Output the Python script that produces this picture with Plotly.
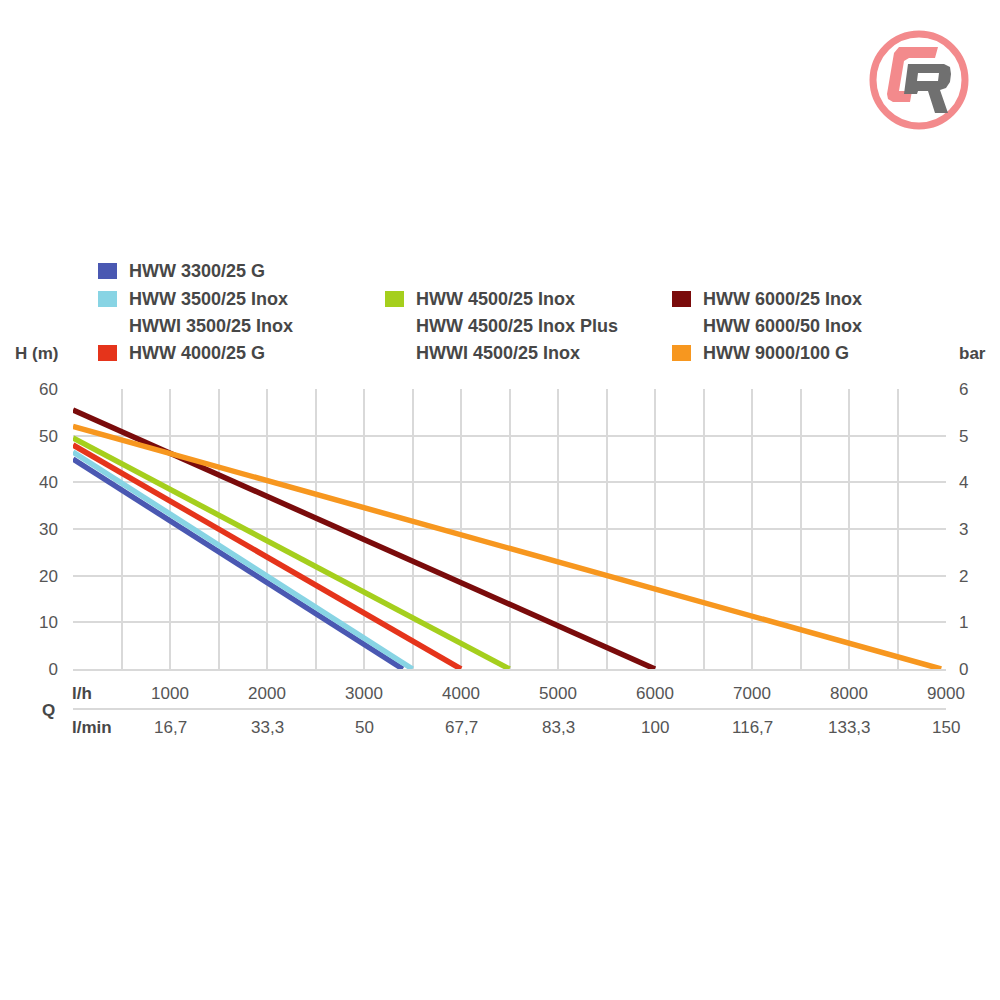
import plotly.graph_objects as go

# ---------------- data ----------------
series_labels = [
    ["HWW 3300/25 G"],
    ["HWW 3500/25 Inox", "HWWI 3500/25 Inox"],
    ["HWW 4000/25 G"],
    ["HWW 4500/25 Inox", "HWW 4500/25 Inox Plus", "HWWI 4500/25 Inox"],
    ["HWW 6000/25 Inox", "HWW 6000/50 Inox"],
    ["HWW 9000/100 G"],
]
colors = ["#4a58b2", "#88d4e4", "#e5341b", "#a5cf1d", "#7a0b0b", "#f7971f"]
q_max_lh = [3400, 3500, 4000, 4500, 6000, 8950]      # flow at H = 0 (l/h)
h_max_m = [45.0, 46.5, 48.0, 49.5, 55.5, 52.0]        # head at Q = 0 (m)

lh_ticks = [1000, 2000, 3000, 4000, 5000, 6000, 7000, 8000, 9000]
lmin_labels = ["16,7", "33,3", "50", "67,7", "83,3", "100", "116,7", "133,3", "150"]
h_ticks = [0, 10, 20, 30, 40, 50, 60]
bar_ticks = [0, 1, 2, 3, 4, 5, 6]

# ---------------- layout helpers (page pixel coordinates) ----------------
OFF = 8                      # default page body margin
FIG = 1000 - 2 * OFF
L, R, T, B = 73, 946, 389, 669
W_PLOT, H_PLOT = R - L, B - T


def px(x):
    return (x - L) / W_PLOT


def py(y):
    return (B - y) / H_PLOT


FONT = "Liberation Sans, Arial, sans-serif"
TXT = "#555555"
LEG = "#474747"
GRID = "#d9d9d9"

fig = go.Figure()
for lab, c, q, h in zip(series_labels, colors, q_max_lh, h_max_m):
    fig.add_trace(go.Scatter(x=[0, q], y=[h, 0], mode="lines", name=lab[0],
                             line=dict(color=c, width=5.5), showlegend=False))
# invisible trace for right axis
fig.add_trace(go.Scatter(x=[0], y=[0], yaxis="y2", mode="markers",
                         marker=dict(opacity=0), showlegend=False, hoverinfo="skip"))

fig.update_layout(
    width=FIG, height=FIG,
    margin=dict(l=L - OFF, r=FIG + OFF - R, t=T - OFF, b=FIG + OFF - B),
    paper_bgcolor="white", plot_bgcolor="white",
    font=dict(family=FONT, size=17, color=TXT),
    xaxis=dict(range=[0, 9000], tickvals=[0] + lh_ticks,
               ticktext=[""] + [str(v) for v in lh_ticks],
               showgrid=True, gridcolor=GRID, gridwidth=2,
               minor=dict(dtick=500, showgrid=True, gridcolor=GRID, gridwidth=2),
               showline=True, linecolor=GRID, linewidth=2,
               zeroline=False, ticks="", ticklabelstandoff=8,
               tickfont=dict(size=17, color=TXT), fixedrange=True),
    yaxis=dict(range=[0, 60], tickvals=h_ticks, showgrid=True, gridcolor=GRID,
               gridwidth=2, zeroline=False, showline=False, ticks="",
               ticklabelstandoff=14, tickfont=dict(size=17, color=TXT)),
    yaxis2=dict(range=[0, 6], tickvals=bar_ticks, overlaying="y", side="right",
                showgrid=False, zeroline=False, showline=False, ticks="",
                ticklabelstandoff=12, tickfont=dict(size=17, color=TXT)),
)

annotations = []
shapes = []

# second flow row (l/min)
for v, t in zip(lh_ticks, lmin_labels):
    annotations.append(dict(x=v, y=py(727), xref="x", yref="paper", text=t,
                            showarrow=False, xanchor="center", yanchor="middle",
                            font=dict(size=17, color=TXT)))
# separator line between flow rows
shapes.append(dict(type="line", xref="x", yref="paper", x0=0, x1=9000,
                   y0=py(709), y1=py(709), line=dict(color=GRID, width=2)))

# axis unit labels
for text, x, y, anchor in [("l/h", 70, 693, "left"), ("l/min", 70, 727, "left"),
                           ("Q", 40, 710, "left"), ("H (m)", 13, 353, "left"),
                           ("bar", 957, 353, "left")]:
    annotations.append(dict(x=px(x), y=py(y), xref="paper", yref="paper",
                            text="<b>%s</b>" % text, showarrow=False,
                            xanchor=anchor, yanchor="middle",
                            font=dict(size=17, color=LEG)))

# custom legend
legend_pos = [(0, 0), (0, 1), (0, 3), (1, 1), (2, 1), (2, 3)]  # column, start row
col_sq = [98, 385, 672]
col_tx = [127, 414, 701]
row_y = [271, 299, 326, 353]
for lab, c, (col, row) in zip(series_labels, colors, legend_pos):
    yc = row_y[row]
    shapes.append(dict(type="rect", xref="paper", yref="paper",
                       x0=px(col_sq[col]), x1=px(col_sq[col] + 19),
                       y0=py(yc + 8), y1=py(yc - 8),
                       fillcolor=c, line=dict(width=0)))
    for k, t in enumerate(lab):
        annotations.append(dict(x=px(col_tx[col]), y=py(row_y[row + k]),
                                xref="paper", yref="paper", text="<b>%s</b>" % t,
                                showarrow=False, xanchor="left", yanchor="middle",
                                font=dict(size=18, color=LEG)))

# logo (top right)
PINK = "#f38a8c"
GREY = "#707070"
cx, cy, r = 919, 80, 46
shapes.append(dict(type="circle", xref="paper", yref="paper",
                   x0=px(cx - r), x1=px(cx + r), y0=py(cy + r), y1=py(cy - r),
                   line=dict(color=PINK, width=7), fillcolor="rgba(0,0,0,0)"))


def path(points):
    return "M " + " L ".join("%.5f,%.5f" % (px(x), py(y)) for x, y in points) + " Z"


c_pts = [(899, 47), (938, 47), (935, 58), (909, 58), (904, 61), (899, 91),
         (912, 91), (910, 102), (893, 102), (888, 99), (887, 94), (894, 53)]
r_pts = [(908, 64), (944, 64), (950, 67), (951, 74), (950, 82), (946, 88),
         (940, 90), (948, 113), (935, 113), (928, 91), (918, 91), (917, 94),
         (904, 94)]
hole = [(918, 73), (939, 73), (938, 81), (917, 81)]
shapes.append(dict(type="path", xref="paper", yref="paper", path=path(c_pts),
                   fillcolor=PINK, line=dict(width=0)))
shapes.append(dict(type="path", xref="paper", yref="paper", path=path(r_pts),
                   fillcolor=GREY, line=dict(width=0)))
shapes.append(dict(type="path", xref="paper", yref="paper", path=path(hole),
                   fillcolor="white", line=dict(width=0)))

fig.update_layout(annotations=annotations, shapes=shapes)
fig.write_html("out.html")
